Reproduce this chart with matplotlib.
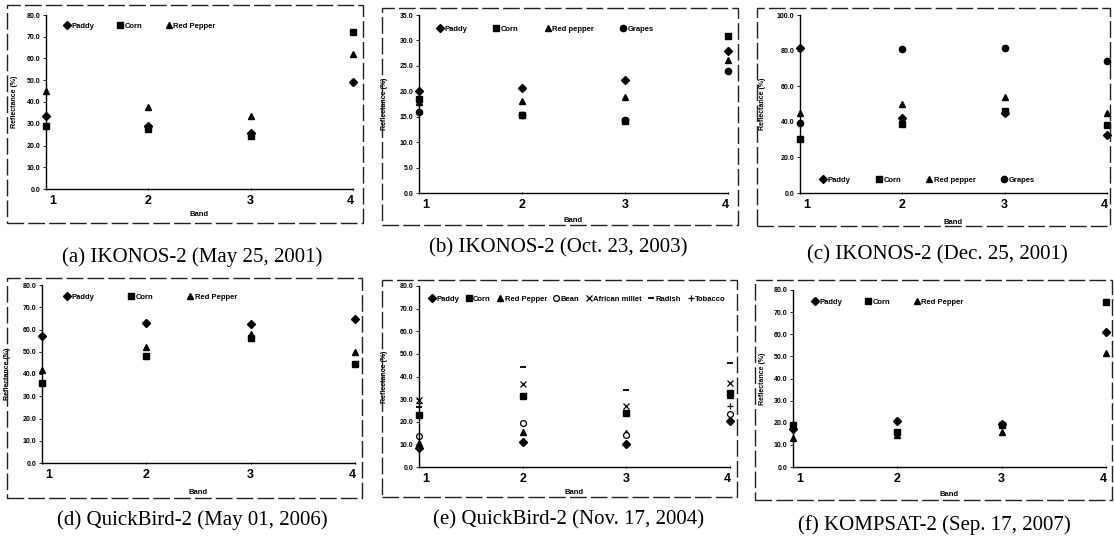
import matplotlib.pyplot as plt
from matplotlib.patches import Rectangle
from matplotlib.lines import Line2D
from matplotlib.transforms import ScaledTranslation

W, H = 1114, 541

bands = [1, 2, 3, 4]
band_labels = ['1', '2', '3', '4']

# (a) IKONOS-2 (May 25, 2001)
a_paddy = [33.5, 29.0, 25.8, 49.0]
a_corn = [28.8, 27.5, 24.4, 72.3]
a_red_pepper = [45.0, 37.5, 33.5, 62.0]

# (b) IKONOS-2 (Oct. 23, 2003)
b_paddy = [20.1, 20.6, 22.3, 27.9]
b_corn = [18.4, 15.4, 14.2, 30.9]
b_red_pepper = [17.9, 18.1, 18.9, 26.2]
b_grapes = [15.9, 15.3, 14.4, 24.0]

# (c) IKONOS-2 (Dec. 25, 2001)
c_paddy = [81.7, 42.1, 44.9, 32.7]
c_corn = [30.3, 38.7, 46.2, 38.3]
c_red_pepper = [45.2, 49.9, 54.0, 44.9]
c_grapes = [39.3, 81.0, 81.7, 74.2]

# (d) QuickBird-2 (May 01, 2006)
d_paddy = [57.1, 63.1, 62.5, 64.9]
d_corn = [35.8, 48.0, 56.0, 44.3]
d_red_pepper = [41.6, 52.0, 57.8, 50.0]

# (e) QuickBird-2 (Nov. 17, 2004)
e_paddy = [8.3, 11.0, 10.0, 20.4]
e_corn = [22.8, 31.6, 23.8, 32.6]
e_red_pepper = [10.5, 15.6, 15.0, 32.0]
e_bean = [13.6, 19.5, 14.2, 23.3]
e_african_millet = [29.6, 36.9, 26.9, 37.2]
e_radish = [26.6, 44.0, 33.9, 45.8]
e_tobacco = [28.4, 31.6, 23.8, 27.0]

# (f) KOMPSAT-2 (Sep. 17, 2007)
f_paddy = [17.0, 20.8, 19.6, 61.2]
f_corn = [19.0, 16.0, 19.0, 74.8]
f_red_pepper = [13.0, 14.5, 15.6, 51.7]

# marker styles per crop
styles = {
    'Paddy': dict(marker='D', ms=4.0, mfc='black', mec='black'),
    'Corn': dict(marker='s', ms=4.3, mfc='black', mec='black'),
    'Red Pepper': dict(marker='^', ms=5.0, mfc='black', mec='black'),
    'Red pepper': dict(marker='^', ms=5.0, mfc='black', mec='black'),
    'Grapes': dict(marker='o', ms=4.5, mfc='black', mec='black'),
    'Bean': dict(marker='o', ms=4.2, mfc='white', mec='black', mew=0.9),
    'African millet': dict(marker='x', ms=4.3, mec='black', mew=0.9),
    'Radish': dict(marker='_', ms=5.0, mec='black', mew=1.3),
    'Tobacco': dict(marker='+', ms=4.8, mec='black', mew=0.9),
}

# panel layout in pixels: axes (left, top, right, bottom), frame box, caption centre, legend
panels = [
    dict(series=[('Paddy', a_paddy), ('Corn', a_corn), ('Red Pepper', a_red_pepper)],
         ymax=80, ystep=10, ax=(46, 15, 353, 189), box=(7, 5, 363, 223),
         caption='(a) IKONOS-2 (May 25, 2001)', cap=(192, 257),
         leg=(67, 26), colsp=3.0, ylab=31, xlab=26),
    dict(series=[('Paddy', b_paddy), ('Corn', b_corn), ('Red pepper', b_red_pepper),
                 ('Grapes', b_grapes)],
         ymax=35, ystep=5, ax=(419, 15, 728, 193), box=(382, 8, 738, 225),
         caption='(b) IKONOS-2 (Oct. 23, 2003)', cap=(558, 248),
         leg=(440, 29), colsp=3.4, ylab=34, xlab=27),
    dict(series=[('Paddy', c_paddy), ('Corn', c_corn), ('Red pepper', c_red_pepper),
                 ('Grapes', c_grapes)],
         ymax=100, ystep=20, ax=(800, 15, 1107, 193), box=(757, 8, 1110, 226),
         caption='(c) IKONOS-2 (Dec. 25, 2001)', cap=(937, 255),
         leg=(823, 180), colsp=3.3, ylab=37, xlab=29),
    dict(series=[('Paddy', d_paddy), ('Corn', d_corn), ('Red Pepper', d_red_pepper)],
         ymax=80, ystep=10, ax=(42, 285, 355, 463), box=(7, 278, 362, 498),
         caption='(d) QuickBird-2 (May 01, 2006)', cap=(192, 520),
         leg=(67, 297), colsp=4.4, ylab=34, xlab=29),
    dict(series=[('Paddy', e_paddy), ('Corn', e_corn), ('Red Pepper', e_red_pepper),
                 ('Bean', e_bean), ('African millet', e_african_millet),
                 ('Radish', e_radish), ('Tobacco', e_tobacco)],
         ymax=80, ystep=10, ax=(419, 286, 730, 467), box=(382, 280, 737, 497),
         caption='(e) QuickBird-2 (Nov. 17, 2004)', cap=(569, 520),
         leg=(432, 299), colsp=0.8, ylab=34, xlab=26),
    dict(series=[('Paddy', f_paddy), ('Corn', f_corn), ('Red Pepper', f_red_pepper)],
         ymax=80, ystep=10, ax=(793, 290, 1106, 467), box=(755, 280, 1112, 500),
         caption='(f) KOMPSAT-2 (Sep. 17, 2007)', cap=(934, 525),
         leg=(815, 302), colsp=3.0, ylab=31, xlab=28),
]

plt.rcParams['font.family'] = 'Liberation Sans'
fig = plt.figure(figsize=(W / 100, H / 100), dpi=100)
fs_small = 5.5

for p in panels:
    l, t, r, b = p['ax']
    ax = fig.add_axes([l / W, 1 - b / H, (r - l) / W, (b - t) / H])
    for name, vals in p['series']:
        ax.plot(bands, vals, linestyle='none', clip_on=False, label=name, **styles[name])
    ax.set_xlim(1, 4)
    ax.set_ylim(0, p['ymax'])
    ax.set_yticks(range(0, p['ymax'] + 1, p['ystep']))
    ax.set_yticklabels(['%.1f' % v for v in range(0, p['ymax'] + 1, p['ystep'])],
                       fontsize=5, fontweight='bold')
    ax.set_xticks(bands)
    ax.set_xticklabels(band_labels, fontsize=9, fontweight='bold')
    ax.tick_params(axis='y', length=2, width=0.6, pad=2)
    ax.tick_params(axis='x', length=2, width=0.6, direction='inout', pad=3)
    for s in ['top', 'right']:
        ax.spines[s].set_visible(False)
    for s in ['left', 'bottom']:
        ax.spines[s].set_linewidth(1.0)
    xl = ax.get_xticklabels()
    xl[0].set_transform(xl[0].get_transform() + ScaledTranslation(7 / 100, 0, fig.dpi_scale_trans))
    xl[-1].set_transform(xl[-1].get_transform() + ScaledTranslation(-3 / 100, 0, fig.dpi_scale_trans))

    ax.set_ylabel('Reflectance (%)', fontsize=5, fontweight='bold')
    ax.yaxis.label.set_va('center')
    ax.yaxis.set_label_coords(-p['ylab'] / (r - l), 0.5)
    ax.set_xlabel('Band', fontsize=fs_small, fontweight='bold')
    ax.xaxis.label.set_va('center')
    ax.xaxis.set_label_coords(0.5, -p['xlab'] / (b - t))

    # legend laid out in one row, like the original inline key
    lx, ly = p['leg']
    em = fs_small * 100 / 72
    handles = [Line2D([], [], linestyle='none', **styles[n]) for n, _ in p['series']]
    ax.legend(handles, [n for n, _ in p['series']], ncol=len(handles), frameon=False,
              loc='center left', borderpad=0, borderaxespad=0,
              bbox_to_anchor=((lx - l - 0.4 * em) / (r - l), (b - ly) / (b - t)),
              handlelength=0.8, handletextpad=0.2, columnspacing=p['colsp'],
              prop={'size': fs_small, 'weight': 'bold'})

    bl, bt, br, bb = p['box']
    fig.patches.append(Rectangle((bl / W, 1 - bb / H), (br - bl) / W, (bb - bt) / H,
                                 transform=fig.transFigure, fill=False, lw=1.0,
                                 ec='#222222', linestyle=(0, (12, 3))))
    cx, cy = p['cap']
    fig.text(cx / W, 1 - cy / H, p['caption'], ha='center', va='center',
             fontsize=15, family='Liberation Serif')

fig.savefig('out.png', dpi=100)
